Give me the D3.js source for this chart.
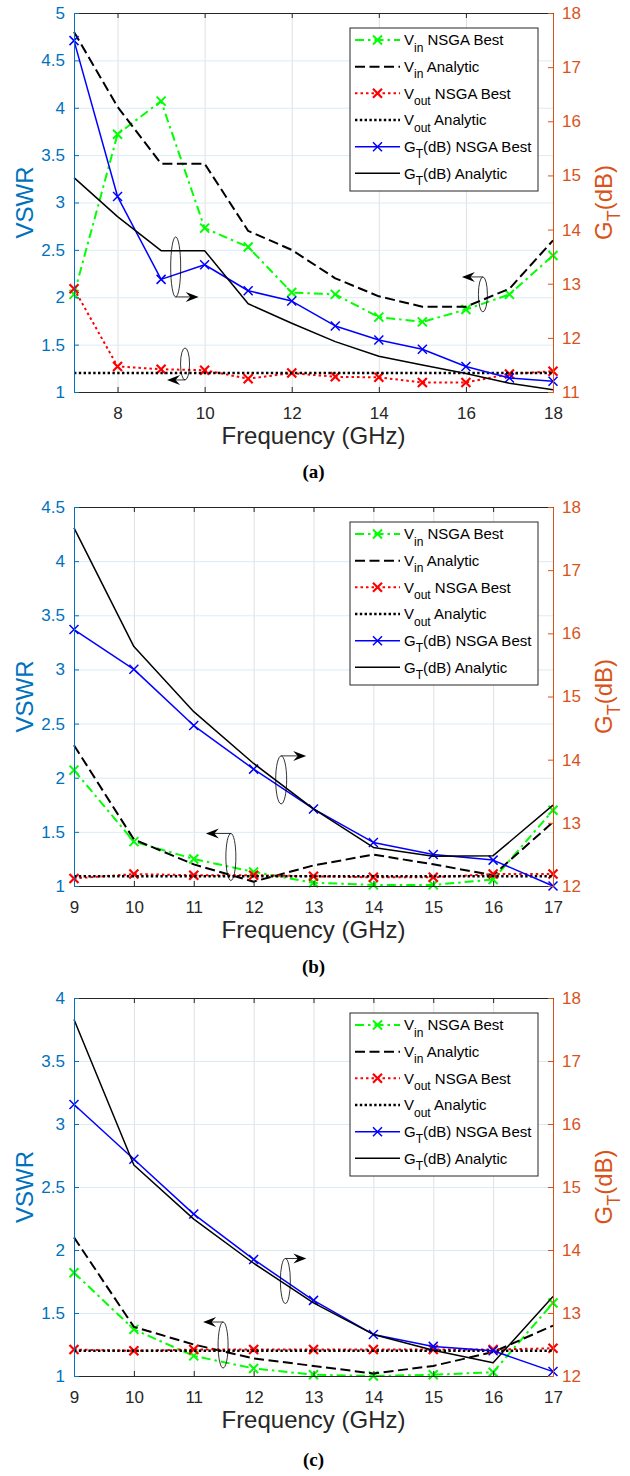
<!DOCTYPE html>
<html>
<head>
<meta charset="utf-8">
<script src="https://cdn.jsdelivr.net/npm/d3@7"></script>
<style>
  body { margin: 0; background: #fff; }
</style>
</head>
<body>
<svg id="chart" width="630" height="1476" font-family="Liberation Sans, Arial, Helvetica, sans-serif"></svg>
<script>
// --------------- Data ---------------

// (a) 7 - 18 GHz
const FREQ_A = [7, 8, 9, 10, 11, 12, 13, 14, 15, 16, 17, 18];
const VIN_NSGA_A = [2.03, 3.72, 4.07, 2.73, 2.53, 2.05, 2.03, 1.79, 1.74, 1.87, 2.03, 2.44];
const VIN_ANA_A = [4.8, 4.01, 3.41, 3.41, 2.7, 2.5, 2.2, 2.01, 1.9, 1.9, 2.09, 2.6];
const VOUT_NSGA_A = [2.09, 1.27, 1.24, 1.23, 1.14, 1.2, 1.16, 1.155, 1.1, 1.1, 1.19, 1.22];
const VOUT_ANA_A = [1.2, 1.2, 1.2, 1.2, 1.2, 1.2, 1.2, 1.2, 1.2, 1.2, 1.2, 1.2];
const GT_NSGA_A = [17.49, 14.61, 13.08, 13.35, 12.87, 12.68, 12.22, 11.96, 11.79, 11.47, 11.26, 11.2];
const GT_ANA_A = [14.96, 14.24, 13.61, 13.61, 12.63, 12.27, 11.93, 11.66, 11.5, 11.34, 11.16, 11.04];

// (b) 9 - 17 GHz
const FREQ_B = [9, 10, 11, 12, 13, 14, 15, 16, 17];
const VIN_NSGA_B = [2.07, 1.41, 1.25, 1.13, 1.03, 1.01, 1.01, 1.06, 1.7];
const VIN_ANA_B = [2.3, 1.43, 1.2, 1.04, 1.19, 1.29, 1.2, 1.1, 1.59];
const VOUT_NSGA_B = [1.07, 1.11, 1.1, 1.1, 1.09, 1.08, 1.08, 1.11, 1.11];
const VOUT_ANA_B = [1.09, 1.09, 1.09, 1.09, 1.09, 1.09, 1.09, 1.09, 1.09];
const GT_NSGA_B = [16.06, 15.43, 14.54, 13.85, 13.22, 12.69, 12.5, 12.41, 12.0];
const GT_ANA_B = [17.67, 15.79, 14.76, 13.94, 13.22, 12.61, 12.47, 12.48, 13.28];

// (c) 9 - 17 GHz
const FREQ_C = [9, 10, 11, 12, 13, 14, 15, 16, 17];
const VIN_NSGA_C = [1.82, 1.37, 1.16, 1.06, 1.01, 1.0, 1.01, 1.03, 1.58];
const VIN_ANA_C = [2.1, 1.39, 1.25, 1.14, 1.08, 1.02, 1.08, 1.19, 1.4];
const VOUT_NSGA_C = [1.21, 1.2, 1.21, 1.21, 1.21, 1.21, 1.21, 1.21, 1.22];
const VOUT_ANA_C = [1.2, 1.2, 1.2, 1.2, 1.2, 1.2, 1.2, 1.2, 1.2];
const GT_NSGA_C = [16.31, 15.44, 14.57, 13.85, 13.2, 12.66, 12.47, 12.4, 12.07];
const GT_ANA_C = [17.66, 15.35, 14.49, 13.79, 13.16, 12.66, 12.41, 12.21, 13.26];

// tick labels
const X_TICKS_A = [8, 10, 12, 14, 16, 18];
const X_TICKS_BC = [9, 10, 11, 12, 13, 14, 15, 16, 17];
const VSWR_TICKS_A = [1, 1.5, 2, 2.5, 3, 3.5, 4, 4.5, 5];
const VSWR_TICKS_B = [1, 1.5, 2, 2.5, 3, 3.5, 4, 4.5];
const VSWR_TICKS_C = [1, 1.5, 2, 2.5, 3, 3.5, 4];
const GT_TICKS_A = [11, 12, 13, 14, 15, 16, 17, 18];
const GT_TICKS_BC = [12, 13, 14, 15, 16, 17, 18];

// ellipse + arrow notes: centre in (GHz, VSWR)
const NOTES_A = [
  { f: 9.335, v: 2.32, rx: 5, ry: 30, from: "bottom", dir: 1, len: 23 },
  { f: 9.55, v: 1.296, rx: 4.5, ry: 16, from: "bottom", dir: -1, len: 18 },
  { f: 16.39, v: 2.03, rx: 4.5, ry: 17.5, from: "top", dir: -1, len: 21 },
];
const NOTES_B = [
  { f: 12.46, v: 1.98, rx: 5.5, ry: 24, from: "top", dir: 1, len: 25 },
  { f: 11.62, v: 1.268, rx: 5, ry: 23.5, from: "top", dir: -1, len: 25 },
];
const NOTES_C = [
  { f: 12.53, v: 1.754, rx: 5, ry: 22.5, from: "top", dir: 1, len: 21 },
  { f: 11.49, v: 1.246, rx: 5, ry: 23, from: "top", dir: -1, len: 20 },
];

const LEGEND_LABELS = [
  ["V", "in", " NSGA Best"],
  ["V", "in", " Analytic"],
  ["V", "out", " NSGA Best"],
  ["V", "out", " Analytic"],
  ["G", "T", "(dB) NSGA Best"],
  ["G", "T", "(dB) Analytic"],
];

// --------------- Constants ---------------

const LEFT = 74;
const RIGHT = 553;
const BLUE_AX = "#0072bd";
const ORANGE_AX = "#d95319";
const DARK = "#262626";
const FONT = "Liberation Sans, Arial, Helvetica, sans-serif";
const XMARK = "M-4.5,-4.5L4.5,4.5M-4.5,4.5L4.5,-4.5";

const STYLES = [
  { color: "#00ff00", width: 2, dash: "9,4,2.5,4", marker: 2, axis: "left" },
  { color: "#000000", width: 2, dash: "10,4.5", axis: "left" },
  { color: "#ff0000", width: 2, dash: "2.5,3", marker: 2.2, axis: "left" },
  { color: "#000000", width: 2.4, dash: "2.4,2.4", axis: "left" },
  { color: "#0000ff", width: 1.5, marker: 1.5, axis: "right" },
  { color: "#000000", width: 1.5, axis: "right" },
];

const PANELS = [
  {
    top: 13, bottom: 392, xDomain: [7, 18], yLeft: [1, 5], yRight: [11, 18],
    xTicks: X_TICKS_A, leftTicks: VSWR_TICKS_A, rightTicks: GT_TICKS_A,
    freq: FREQ_A,
    series: [VIN_NSGA_A, VIN_ANA_A, VOUT_NSGA_A, VOUT_ANA_A, GT_NSGA_A, GT_ANA_A],
    notes: NOTES_A, caption: "(a)", captionGap: 86,
  },
  {
    top: 507, bottom: 886, xDomain: [9, 17], yLeft: [1, 4.5], yRight: [12, 18],
    xTicks: X_TICKS_BC, leftTicks: VSWR_TICKS_B, rightTicks: GT_TICKS_BC,
    freq: FREQ_B,
    series: [VIN_NSGA_B, VIN_ANA_B, VOUT_NSGA_B, VOUT_ANA_B, GT_NSGA_B, GT_ANA_B],
    notes: NOTES_B, caption: "(b)", captionGap: 87,
  },
  {
    top: 998, bottom: 1376, xDomain: [9, 17], yLeft: [1, 4], yRight: [12, 18],
    xTicks: X_TICKS_BC, leftTicks: VSWR_TICKS_C, rightTicks: GT_TICKS_BC,
    freq: FREQ_C,
    series: [VIN_NSGA_C, VIN_ANA_C, VOUT_NSGA_C, VOUT_ANA_C, GT_NSGA_C, GT_ANA_C],
    notes: NOTES_C, caption: "(c)", captionGap: 90,
  },
];

const svg = d3.select("#chart");
svg.append("rect").attr("width", 630).attr("height", 1476).attr("fill", "#ffffff");

// --------------- Helpers ---------------

const arrowHead = (tx, ty, dir) => {
  const L = 13, W = 5, N = 8.5;
  return `M${tx},${ty}L${tx - dir * L},${ty - W}L${tx - dir * N},${ty}L${tx - dir * L},${ty + W}Z`;
};

const subText = (sel, parts, subSize, shift) => {
  sel.append("tspan").text(parts[0]);
  sel.append("tspan").text(parts[1]).attr("font-size", subSize).attr("dy", shift);
  sel.append("tspan").text(parts[2]).attr("dy", -shift);
};

const styleAxis = (sel, color, size) => {
  sel.attr("font-family", FONT).attr("font-size", size);
  sel.selectAll("line, path").attr("stroke", color).attr("stroke-width", 1);
  sel.selectAll("text").attr("fill", color);
};

// --------------- Panels ---------------

const drawPanel = (p) => {
  const x = d3.scaleLinear().domain(p.xDomain).range([LEFT, RIGHT]);
  const yL = d3.scaleLinear().domain(p.yLeft).range([p.bottom, p.top]);
  const yR = d3.scaleLinear().domain(p.yRight).range([p.bottom, p.top]);
  const h = p.bottom - p.top;
  const mid = (p.top + p.bottom) / 2;
  const g = svg.append("g");

  // grid
  g.append("g")
    .attr("transform", `translate(0,${p.bottom})`)
    .call(d3.axisBottom(x).tickValues(p.xTicks).tickSize(-h).tickFormat(""))
    .call((s) => s.select(".domain").remove())
    .call((s) => s.selectAll("line").attr("stroke", "#e0e0e0"));
  g.append("g")
    .attr("transform", `translate(${LEFT},0)`)
    .call(d3.axisLeft(yL).tickValues(p.leftTicks).tickSize(-(RIGHT - LEFT)).tickFormat(""))
    .call((s) => s.select(".domain").remove())
    .call((s) => s.selectAll("line").attr("stroke", "#dbebf6"));

  // series
  p.series.forEach((vals, k) => {
    const st = STYLES[k];
    const ys = st.axis === "left" ? yL : yR;
    const pts = p.freq.map((f, i) => [x(f), ys(vals[i])]);
    g.append("path")
      .attr("d", d3.line()(pts))
      .attr("fill", "none")
      .attr("stroke", st.color)
      .attr("stroke-width", st.width)
      .attr("stroke-linejoin", "round")
      .attr("stroke-dasharray", st.dash || null);
    if (st.marker) {
      g.append("g")
        .selectAll("path")
        .data(pts)
        .join("path")
        .attr("transform", (d) => `translate(${d[0]},${d[1]})`)
        .attr("d", XMARK)
        .attr("stroke", st.color)
        .attr("stroke-width", st.marker);
    }
  });

  // axes
  g.append("g")
    .attr("transform", `translate(0,${p.top})`)
    .call(d3.axisTop(x).tickValues(p.xTicks).tickSizeInner(-5).tickSizeOuter(0).tickFormat(""))
    .call((s) => styleAxis(s, DARK, 17));
  g.append("g")
    .attr("transform", `translate(0,${p.bottom})`)
    .call(d3.axisBottom(x).tickValues(p.xTicks).tickSizeInner(-5).tickSizeOuter(0).tickPadding(15))
    .call((s) => styleAxis(s, DARK, 17));
  g.append("g")
    .attr("transform", `translate(${LEFT},0)`)
    .call(d3.axisLeft(yL).tickValues(p.leftTicks).tickSizeInner(-5).tickSizeOuter(0).tickPadding(9).tickFormat((d) => d))
    .call((s) => styleAxis(s, BLUE_AX, 17));
  g.append("g")
    .attr("transform", `translate(${RIGHT},0)`)
    .call(d3.axisRight(yR).tickValues(p.rightTicks).tickSizeInner(-5).tickSizeOuter(0).tickPadding(9).tickFormat((d) => d))
    .call((s) => styleAxis(s, ORANGE_AX, 17));

  // notes (ellipse + arrow)
  p.notes.forEach((n) => {
    const cx = x(n.f);
    const cy = yL(n.v);
    g.append("ellipse")
      .attr("cx", cx).attr("cy", cy).attr("rx", n.rx).attr("ry", n.ry)
      .attr("fill", "none").attr("stroke", "#000").attr("stroke-width", 0.8);
    const ay = n.from === "top" ? cy - n.ry : cy + n.ry;
    const tip = cx + n.dir * n.len;
    g.append("line")
      .attr("x1", cx).attr("y1", ay).attr("x2", tip - n.dir * 8).attr("y2", ay)
      .attr("stroke", "#000").attr("stroke-width", 0.8);
    g.append("path").attr("d", arrowHead(tip, ay, n.dir)).attr("fill", "#000");
  });

  // legend
  const lg = g.append("g").attr("transform", `translate(350,${p.top + 15})`);
  lg.append("rect")
    .attr("width", 188).attr("height", 163)
    .attr("fill", "#fff").attr("stroke", DARK).attr("stroke-width", 1);
  LEGEND_LABELS.forEach((lab, i) => {
    const st = STYLES[i];
    const cy = 12 + i * 26.67;
    lg.append("line")
      .attr("x1", 5).attr("x2", 50).attr("y1", cy).attr("y2", cy)
      .attr("stroke", st.color).attr("stroke-width", st.width)
      .attr("stroke-dasharray", st.dash || null);
    if (st.marker) {
      lg.append("path")
        .attr("transform", `translate(27.5,${cy})`)
        .attr("d", XMARK).attr("stroke", st.color).attr("stroke-width", st.marker);
    }
    const t = lg.append("text")
      .attr("x", 54).attr("y", cy + 5.3)
      .attr("font-size", 15).attr("fill", "#000");
    subText(t, lab, 12, 6.5);
  });

  // axis titles
  g.append("text")
    .attr("x", (LEFT + RIGHT) / 2).attr("y", p.bottom + 52)
    .attr("text-anchor", "middle").attr("font-size", 24).attr("fill", DARK)
    .text("Frequency (GHz)");
  g.append("text")
    .attr("transform", `translate(33,${mid}) rotate(-90)`)
    .attr("text-anchor", "middle").attr("font-size", 24).attr("fill", BLUE_AX)
    .text("VSWR");
  const gt = g.append("text")
    .attr("transform", `translate(612,${mid}) rotate(-90)`)
    .attr("text-anchor", "middle").attr("font-size", 24).attr("fill", ORANGE_AX);
  subText(gt, ["G", "T", "(dB)"], 18, 8);

  g.append("text")
    .attr("x", (LEFT + RIGHT) / 2).attr("y", p.bottom + p.captionGap)
    .attr("text-anchor", "middle")
    .attr("font-family", "Liberation Serif, Times New Roman, serif")
    .attr("font-weight", "bold").attr("font-size", 19).attr("fill", "#000")
    .text(p.caption);
};

PANELS.forEach(drawPanel);
</script>
</body>
</html>
